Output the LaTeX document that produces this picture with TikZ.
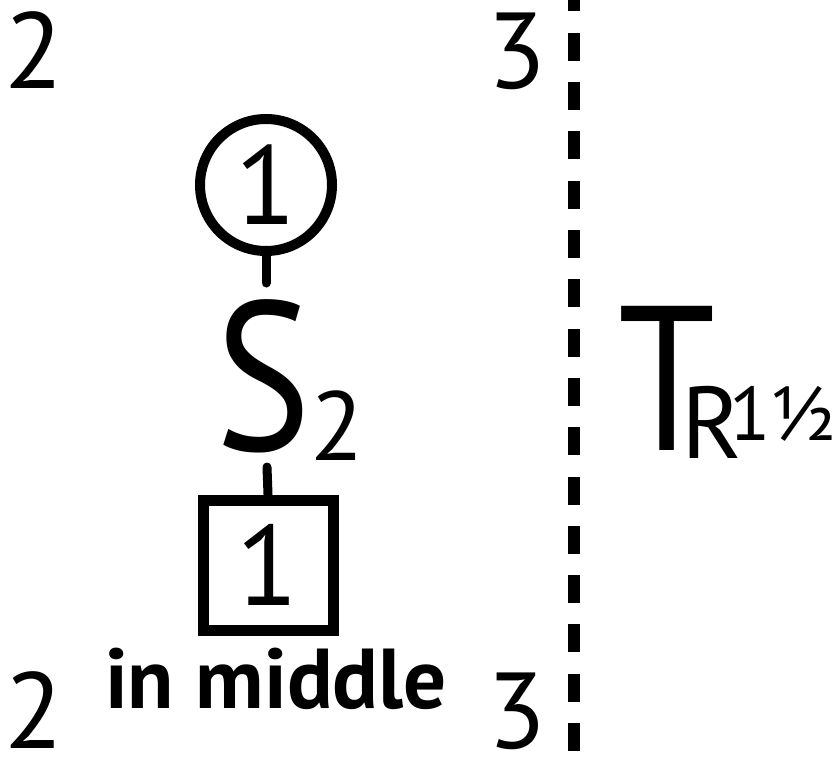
\documentclass[tikz,border=0pt]{standalone}
\usepackage{fontspec}
\usepackage{graphicx}
\setmainfont{PT Sans}
\newcommand{\fsz}[1]{\fontsize{#1}{#1}\selectfont}
\begin{document}
\begin{tikzpicture}[x=1pt,y=-1pt,
  lbl/.style={inner sep=0pt,outer sep=0pt},
  conn/.style={line width=9pt,line cap=round}]
\useasboundingbox (0,0) rectangle (837,760);
% corner digits
\node[lbl,anchor=base] (tl) at (34,88) {\fsz{108}2};
\node[lbl,anchor=base] (tr) at (517,88) {\fsz{108}3};
\node[lbl,anchor=base] (bl) at (34,748) {\fsz{108}2};
\node[lbl,anchor=base] (br) at (517,748) {\fsz{108}3};
% dashed divider
\draw[line width=12pt,dash pattern=on 28pt off 21.3pt] (574,751) -- (574,0);
% circle
\node[circle,draw,line width=10pt,minimum size=132pt,inner sep=0pt] (circ) at (266,185) {\fsz{112}1};
\coordinate (c1) at (266,283);
\draw[conn] (circ.south) -- (c1);
% S_2
\node[lbl,anchor=base] (S) at (263,450) {\scalebox{0.85}[1]{\fsz{212}S}};
\node[lbl,anchor=base west] (S2) at (310,460) {\fsz{98}2};
% square
\node[draw,line width=11pt,minimum size=130pt,inner sep=0pt] (sq) at (268,565) {\fsz{114}1};
\coordinate (c2) at (267,467);
\draw[conn] (sq.north) -- (c2);
\node[lbl,anchor=base] (mid) at (276,708) {\fsz{85}\bfseries in middle};
% T_R 1 1/2
\node[lbl,anchor=base west] (T) at (618,450) {\scalebox{0.85}[1]{\fsz{206}T}};
\node[lbl,anchor=base west] (R) at (681,458) {\fsz{102}R};
\node[lbl,anchor=base west] (frac) at (729,440) {\fsz{76}1½};
\end{tikzpicture}
\end{document}
